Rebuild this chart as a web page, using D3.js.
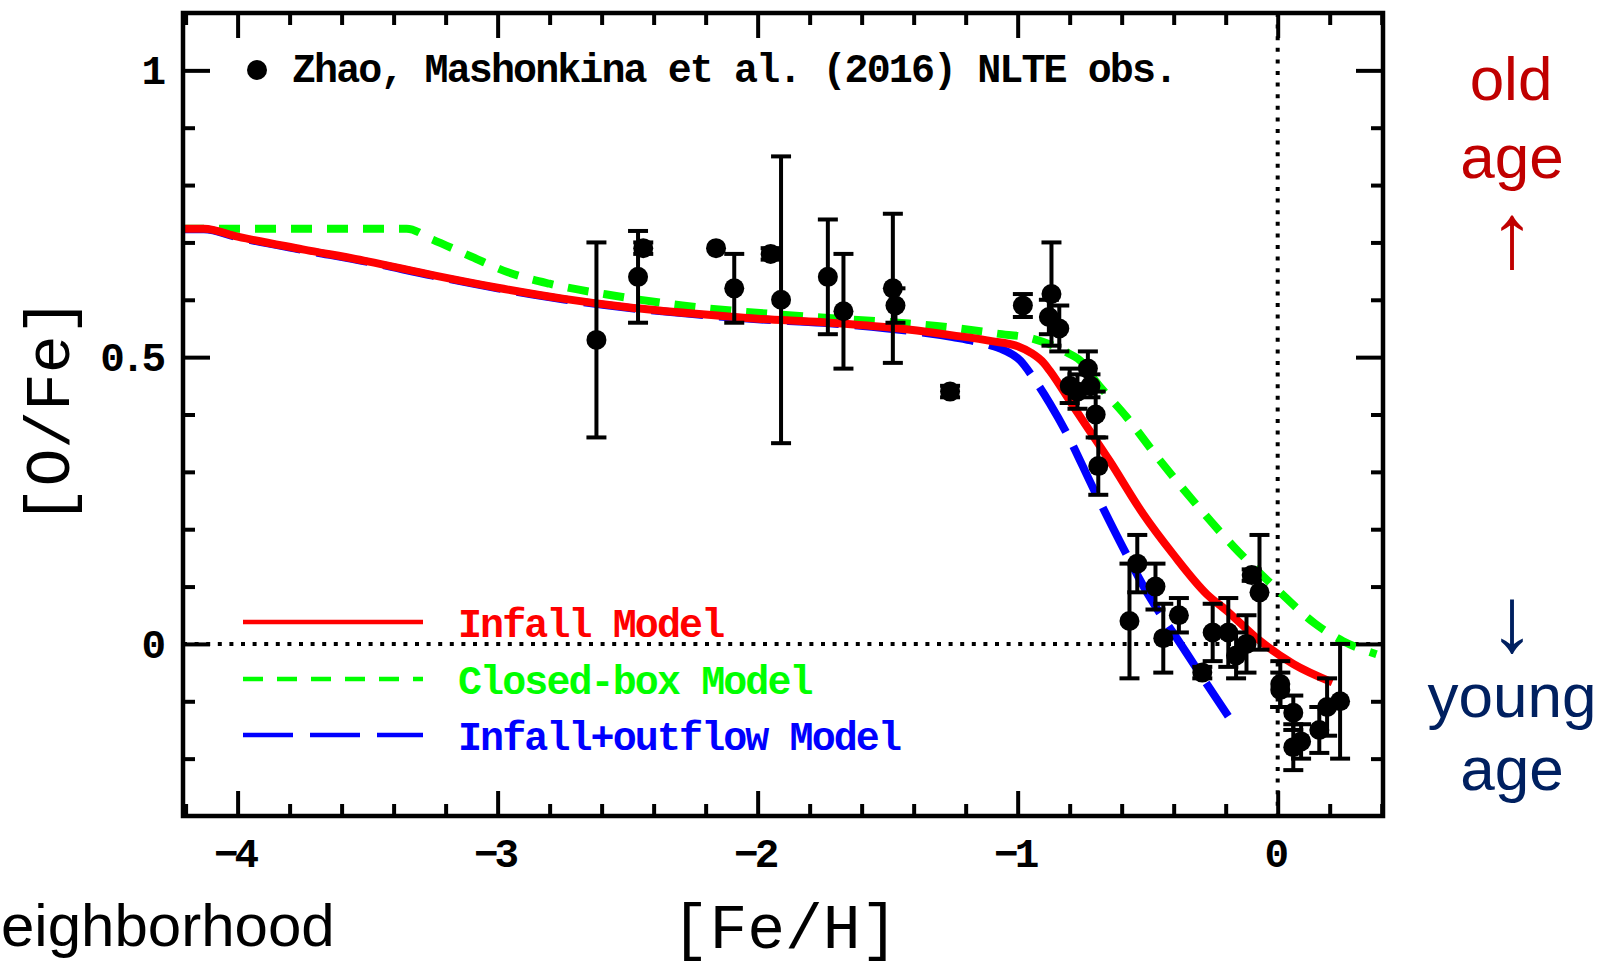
<!DOCTYPE html>
<html>
<head>
<meta charset="utf-8">
<script src="https://cdn.jsdelivr.net/npm/d3@7"></script>
<style>
  html, body { margin: 0; padding: 0; background: #fff; }
  svg { display: block; }
</style>
</head>
<body>
<div class="chart"></div>
<script>
// observed points, Zhao, Mashonkina et al. (2016)
const obsFeh = [-2.62, -2.46, -2.44, -2.16, -2.09, -1.95, -1.91, -1.73, -1.67, -1.48, -1.47, -1.26,
  -0.98, -0.87, -0.88, -0.84, -0.73, -0.80, -0.77, -0.72, -0.70, -0.69,
  -0.54, -0.57, -0.47, -0.44, -0.38, -0.29, -0.25, -0.19, -0.16, -0.12, -0.10, -0.07,
  0.01, 0.01, 0.06, 0.06, 0.09, 0.16, 0.19, 0.24];
const obsOfe = [0.53, 0.64, 0.69, 0.69, 0.62, 0.68, 0.60, 0.64, 0.58, 0.62, 0.59, 0.44,
  0.59, 0.61, 0.57, 0.55, 0.48, 0.45, 0.44, 0.45, 0.40, 0.31,
  0.14, 0.04, 0.10, 0.01, 0.05, -0.05, 0.02, 0.02, -0.02, 0.00, 0.12, 0.09,
  -0.07, -0.08, -0.12, -0.18, -0.17, -0.15, -0.11, -0.10];
const obsErr = [0.17, 0.08, 0.01, 0, 0.06, 0.01, 0.25, 0.10, 0.10, 0.13, 0.03, 0.01,
  0.02, 0.09, 0.03, 0.04, 0.03, 0.03, 0.03, 0.02, 0.04, 0.05,
  0.05, 0.10, 0.04, 0.06, 0.03, 0.01, 0.05, 0.06, 0.04, 0.05, 0.01, 0.10,
  0.04, 0.03, 0.03, 0.04, 0.03, 0.04, 0.05, 0.10];

// model curves
const infallFeh = [-4.21, -4.13, -4.0, -3.75, -3.5, -3.25, -3.0, -2.75, -2.5, -2.25, -2.0, -1.75, -1.5, -1.25,
  -1.1, -1.0, -0.95, -0.9, -0.876, -0.8, -0.749, -0.646, -0.518, -0.403, -0.273, -0.196, -0.07, 0.06, 0.21];
const infallOfe = [0.724, 0.724, 0.710, 0.688, 0.667, 0.643, 0.621, 0.602, 0.587, 0.576, 0.567, 0.561, 0.552, 0.538,
  0.528, 0.519, 0.508, 0.490, 0.476, 0.424, 0.389, 0.319, 0.227, 0.157, 0.087, 0.058, 0.006, -0.035, -0.067];

const closedFeh = [-4.21, -3.35, -3.25, -3.1, -2.96, -2.8, -2.55, -2.29, -1.88, -1.46, -1.26, -1.08, -0.94,
  -0.81, -0.75, -0.71, -0.58, -0.453, -0.326, -0.17, 0.0, 0.145, 0.25, 0.38];
const closedOfe = [0.724, 0.724, 0.705, 0.675, 0.648, 0.628, 0.607, 0.590, 0.573, 0.560, 0.552, 0.541, 0.532,
  0.508, 0.490, 0.464, 0.395, 0.320, 0.250, 0.170, 0.094, 0.035, 0.005, -0.018];

const outflowFeh = [-4.21, -4.13, -4.0, -3.75, -3.5, -3.25, -3.0, -2.75, -2.5, -2.25, -2.0, -1.75, -1.5, -1.25,
  -1.1, -1.067, -0.99, -0.94, -0.876, -0.81, -0.71, -0.595, -0.49, -0.388, -0.29, -0.19];
const outflowOfe = [0.723, 0.723, 0.709, 0.687, 0.666, 0.642, 0.620, 0.601, 0.586, 0.575, 0.566, 0.560, 0.550, 0.535,
  0.520, 0.515, 0.494, 0.464, 0.419, 0.366, 0.272, 0.168, 0.080, 0.010, -0.058, -0.126];

const xMajor = [-4, -3, -2, -1, 0];
const xTickLabels = ["\u22124", "\u22123", "\u22122", "\u22121", "0"];
const yMajor = [0, 0.5, 1];
const yTickLabels = ["0", "0.5", "1"];
const xMinor = [-4.2, -3.8, -3.6, -3.4, -3.2, -2.8, -2.6, -2.4, -2.2, -1.8, -1.6, -1.4, -1.2, -0.8, -0.6, -0.4, -0.2, 0.2, 0.4];
const yMinor = [-0.2, -0.1, 0.1, 0.2, 0.3, 0.4, 0.6, 0.7, 0.8, 0.9];

const W = 1600, H = 966;
const frame = {l: 183, r: 1383, t: 13, b: 816};
const mono = "'Liberation Mono', 'Courier New', monospace";
const sans = "'Liberation Sans', Arial, sans-serif";

const svg = d3.select('.chart').append('svg')
  .attr('width', W).attr('height', H)
  .attr('viewBox', [0, 0, W, H]);

svg.append('rect').attr('width', W).attr('height', H).attr('fill', '#fff');

const x = d3.scaleLinear().domain([-4.21, 0.405]).range([frame.l, frame.r]);
const y = d3.scaleLinear().domain([-0.3, 1.1]).range([frame.b, frame.t]);

svg.append('clipPath').attr('id', 'clip')
  .append('rect').attr('x', frame.l).attr('y', frame.t)
  .attr('width', frame.r - frame.l).attr('height', frame.b - frame.t);

const plot = svg.append('g').attr('clip-path', 'url(#clip)');

// zero lines
plot.append('line')
  .attr('x1', frame.l).attr('x2', frame.r).attr('y1', y(0)).attr('y2', y(0))
  .attr('stroke', '#000').attr('stroke-width', 4).attr('stroke-dasharray', '4 7.6');
plot.append('line')
  .attr('x1', x(0)).attr('x2', x(0)).attr('y1', frame.t).attr('y2', frame.b)
  .attr('stroke', '#000').attr('stroke-width', 4).attr('stroke-dasharray', '4 7.6');

const line = d3.line().x(d => x(d[0])).y(d => y(d[1])).curve(d3.curveMonotoneX);
const zip = (a, b) => a.map((v, i) => [v, b[i]]);

plot.append('path').datum(zip(closedFeh, closedOfe))
  .attr('d', line).attr('fill', 'none').attr('stroke', '#00ff00')
  .attr('stroke-width', 8).attr('stroke-dasharray', '21 15');
plot.append('path').datum(zip(outflowFeh, outflowOfe))
  .attr('d', line).attr('fill', 'none').attr('stroke', '#0000ff')
  .attr('stroke-width', 8).attr('stroke-dasharray', '52 16');
plot.append('path').datum(zip(infallFeh, infallOfe))
  .attr('d', line).attr('fill', 'none').attr('stroke', '#ff0000')
  .attr('stroke-width', 8);

// observations with error bars
const obs = obsFeh.map((f, i) => ({feh: f, ofe: obsOfe[i], err: obsErr[i]}));
const eb = plot.append('g').attr('stroke', '#000').attr('stroke-width', 4);
obs.filter(d => d.err > 0).forEach(d => {
  const y0 = y(d.ofe - d.err), y1 = y(d.ofe + d.err), cx = x(d.feh);
  eb.append('line').attr('x1', cx).attr('x2', cx).attr('y1', y0).attr('y2', y1);
  eb.append('line').attr('x1', cx - 10).attr('x2', cx + 10).attr('y1', y0).attr('y2', y0);
  eb.append('line').attr('x1', cx - 10).attr('x2', cx + 10).attr('y1', y1).attr('y2', y1);
});
plot.append('g').selectAll('circle').data(obs).join('circle')
  .attr('cx', d => x(d.feh)).attr('cy', d => y(d.ofe)).attr('r', 10).attr('fill', '#000');

// axes: ticks pointing inward on all four sides
const sides = [
  [() => d3.axisBottom(x), `translate(0,${frame.b})`, xMajor, xMinor, -25],
  [() => d3.axisTop(x), `translate(0,${frame.t})`, xMajor, xMinor, -25],
  [() => d3.axisLeft(y), `translate(${frame.l},0)`, yMajor, yMinor, -27],
  [() => d3.axisRight(y), `translate(${frame.r},0)`, yMajor, yMinor, -27]
];
sides.forEach(([mk, tr, major, minor, big]) => {
  [[major, big], [minor, -12]].forEach(([vals, size]) => {
    const g = svg.append('g').attr('transform', tr)
      .call(mk().tickValues(vals).tickSize(size).tickFormat(''));
    g.select('.domain').remove();
    g.selectAll('.tick line').attr('stroke', '#000').attr('stroke-width', 4);
    g.selectAll('.tick text').remove();
  });
});

svg.append('rect')
  .attr('x', frame.l).attr('y', frame.t)
  .attr('width', frame.r - frame.l).attr('height', frame.b - frame.t)
  .attr('fill', 'none').attr('stroke', '#000').attr('stroke-width', 4.5);

// tick labels
svg.append('g').selectAll('text').data(xMajor).join('text')
  .attr('x', d => x(d) - 3).attr('y', 867)
  .attr('text-anchor', 'middle')
  .attr('font-family', mono).attr('font-weight', 'bold').attr('font-size', 41)
  .attr('letter-spacing', -4)
  .text((d, i) => xTickLabels[i]);
svg.append('g').selectAll('text').data(yMajor).join('text')
  .attr('x', 162).attr('y', d => y(d)).attr('dy', '0.34em')
  .attr('text-anchor', 'end')
  .attr('font-family', mono).attr('font-weight', 'bold').attr('font-size', 41)
  .attr('letter-spacing', -4)
  .text((d, i) => yTickLabels[i]);

// axis titles
svg.append('text').attr('x', 785).attr('y', 948).attr('text-anchor', 'middle')
  .attr('font-family', mono).attr('font-size', 63).text('[Fe/H]');
svg.append('text').attr('transform', 'translate(69,411) rotate(-90)').attr('text-anchor', 'middle')
  .attr('font-family', mono).attr('font-size', 63).text('[O/Fe]');

// legend
svg.append('circle').attr('cx', 257).attr('cy', 70).attr('r', 10).attr('fill', '#000');
svg.append('text').attr('x', 292).attr('y', 82)
  .attr('font-family', mono).attr('font-weight', 'bold').attr('font-size', 40)
  .attr('letter-spacing', -1.9)
  .text('Zhao, Mashonkina et al. (2016) NLTE obs.');

const legend = [
  {label: 'Infall Model', color: '#ff0000', dash: null, ly: 622},
  {label: 'Closed-box Model', color: '#00ff00', dash: '20 14', ly: 679},
  {label: 'Infall+outflow Model', color: '#0000ff', dash: '50 17', ly: 735}
];
legend.forEach(d => {
  svg.append('line').attr('x1', 243).attr('x2', 423).attr('y1', d.ly).attr('y2', d.ly)
    .attr('stroke', d.color).attr('stroke-width', 4.5)
    .attr('stroke-dasharray', d.dash);
  svg.append('text').attr('x', 458).attr('y', d.ly + 15)
    .attr('font-family', mono).attr('font-weight', 'bold').attr('font-size', 40)
    .attr('letter-spacing', -1.9)
    .attr('fill', d.color).text(d.label);
});

// side annotations
const side = svg.append('g').attr('font-family', sans).attr('font-size', 62).attr('text-anchor', 'middle');
side.append('text').attr('x', 1511).attr('y', 100).attr('fill', '#c00000').text('old');
side.append('text').attr('x', 1512).attr('y', 178).attr('fill', '#c00000').text('age');
side.append('text').attr('x', 1512).attr('y', 267).attr('font-size', 92).attr('fill', '#c00000').text('\u2191');
side.append('text').attr('x', 1512).attr('y', 651).attr('font-size', 92).attr('fill', '#002060').text('\u2193');
side.append('text').attr('x', 1512).attr('y', 717).attr('fill', '#002060').text('young');
side.append('text').attr('x', 1512).attr('y', 790).attr('fill', '#002060').text('age');

svg.append('text').attr('x', 1).attr('y', 946)
  .attr('font-family', sans).attr('font-size', 60).text('eighborhood');
</script>
</body>
</html>
